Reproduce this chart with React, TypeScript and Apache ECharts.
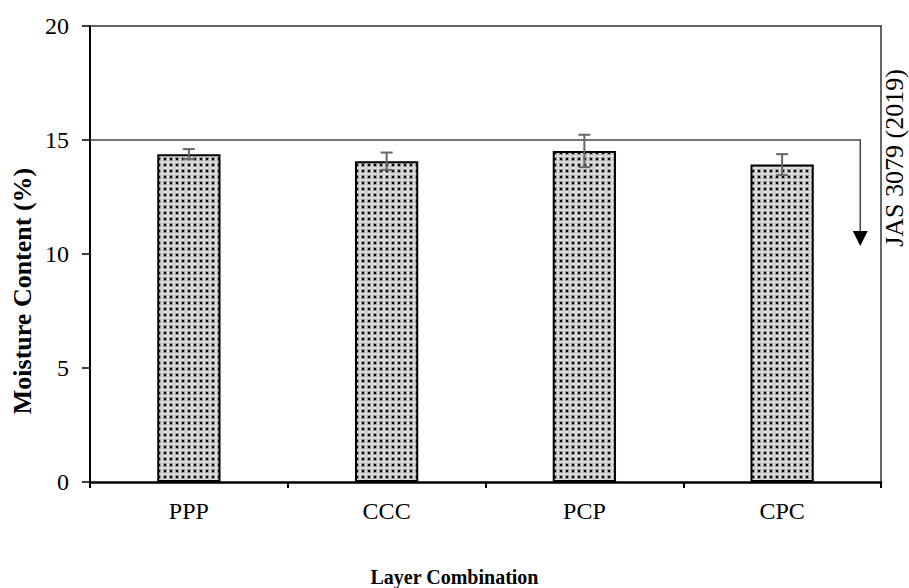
import React, { useEffect, useRef } from "react";
import * as echarts from "echarts";

const categories = ["PPP", "CCC", "PCP", "CPC"];
const moisture = [14.38, 14.07, 14.52, 13.92];
const errors = [0.22, 0.38, 0.71, 0.46];
const yTicks = { min: 0, max: 20, interval: 5 };
// reference line (JAS 3079 (2019)) in [categoryPosition (0..4), value]
const refLinePts = [
  [0, 15],
  [3.895, 15],
  [3.895, 10.35],
];
const refLabel = "JAS 3079 (2019)";
const xTitle = "Layer Combination";
const yTitle = "Moisture Content (%)";

const FONT = "'Liberation Serif', 'Times New Roman', serif";

function makePattern() {
  const c = document.createElement("canvas");
  c.width = 6;
  c.height = 6;
  const ctx = c.getContext("2d")!;
  ctx.fillStyle = "#dadada";
  ctx.fillRect(0, 0, 6, 6);
  ctx.fillStyle = "#9a9a9a";
  ctx.fillRect(1, 1, 4, 4);
  ctx.fillStyle = "#000000";
  ctx.fillRect(2, 2, 2, 2);
  return c;
}

export default function App() {
  const ref = useRef<HTMLDivElement>(null);
  useEffect(() => {
    if (!ref.current) return;
    const chart = echarts.init(ref.current, undefined, { renderer: "svg" });
    const pattern = makePattern();
    const option: any = {
      animation: false,
      backgroundColor: "#ffffff",
      grid: { left: 90, right: 28, top: 26, bottom: 106 },
      xAxis: [
        {
          type: "category",
          data: categories,
          boundaryGap: true,
          position: "bottom",
          axisLine: { show: true, lineStyle: { color: "#000", width: 2.5 } },
          axisTick: { show: true, inside: false, length: 6, lineStyle: { color: "#000", width: 2 } },
          axisLabel: { color: "#000", fontFamily: FONT, fontSize: 24, margin: 17 },
          splitLine: { show: false },
        },
        {
          type: "value",
          min: 0,
          max: 4,
          position: "top",
          axisLine: { show: true, onZero: false, lineStyle: { color: "#333", width: 1.5 } },
          axisTick: { show: false },
          axisLabel: { show: false },
          splitLine: { show: false },
        },
      ],
      yAxis: [
        {
          type: "value",
          min: yTicks.min,
          max: yTicks.max,
          interval: yTicks.interval,
          axisLine: { show: true, lineStyle: { color: "#000", width: 2 } },
          axisTick: { show: true, inside: false, length: 8, lineStyle: { color: "#000", width: 1.5 } },
          axisLabel: { color: "#000", fontFamily: FONT, fontSize: 24, margin: 21 },
          splitLine: { show: false },
        },
        {
          type: "value",
          min: yTicks.min,
          max: yTicks.max,
          position: "right",
          axisLine: { show: true, lineStyle: { color: "#666", width: 2 } },
          axisTick: { show: false },
          axisLabel: { show: false },
          splitLine: { show: false },
        },
      ],
      graphic: [
        {
          type: "text",
          x: 894,
          y: 158,
          rotation: Math.PI / 2,
          style: {
            text: refLabel,
            fill: "#000",
            font: `26px ${FONT}`,
            align: "center",
            verticalAlign: "middle",
          },
        },
        {
          type: "text",
          x: 454.5,
          y: 577,
          style: {
            text: xTitle,
            fill: "#000",
            font: `bold 20px ${FONT}`,
            align: "center",
            verticalAlign: "middle",
          },
        },
        {
          type: "text",
          x: 22,
          y: 291,
          rotation: Math.PI / 2,
          style: {
            text: yTitle,
            fill: "#000",
            font: `bold 26px ${FONT}`,
            align: "center",
            verticalAlign: "middle",
          },
        },
      ],
      series: [
        {
          type: "bar",
          data: moisture,
          barWidth: "32%",
          itemStyle: {
            color: { image: pattern, repeat: "repeat", imageWidth: 6, imageHeight: 6 },
            borderColor: "#000",
            borderWidth: 2,
          },
          z: 2,
        },
        {
          type: "custom",
          xAxisIndex: 0,
          yAxisIndex: 0,
          data: moisture.map((v, i) => [i, v - errors[i], v + errors[i]]),
          z: 5,
          renderItem: (params: any, api: any) => {
            const i = api.value(0);
            const lo = api.coord([i, api.value(1)]);
            const hi = api.coord([i, api.value(2)]);
            const w = 6;
            const st = { stroke: "#666", lineWidth: 2 };
            return {
              type: "group",
              children: [
                { type: "line", shape: { x1: hi[0], y1: hi[1], x2: lo[0], y2: lo[1] }, style: st },
                { type: "line", shape: { x1: hi[0] - w, y1: hi[1], x2: hi[0] + w, y2: hi[1] }, style: st },
                { type: "line", shape: { x1: lo[0] - w, y1: lo[1], x2: lo[0] + w, y2: lo[1] }, style: st },
              ],
            };
          },
        },
        {
          type: "custom",
          xAxisIndex: 1,
          yAxisIndex: 0,
          data: [[0]],
          z: 4,
          renderItem: (params: any, api: any) => {
            const pts = refLinePts.map((p) => api.coord(p));
            const last = pts[pts.length - 1];
            const headH = 15;
            const headW = 7.5;
            const line = pts.slice(0, -1).concat([[last[0], last[1] - headH]]);
            return {
              type: "group",
              children: [
                { type: "polyline", shape: { points: line }, style: { stroke: "#444", lineWidth: 1.5, fill: null } },
                {
                  type: "polygon",
                  shape: {
                    points: [
                      [last[0] - headW, last[1] - headH],
                      [last[0] + headW, last[1] - headH],
                      [last[0], last[1]],
                    ],
                  },
                  style: { fill: "#000" },
                },
              ],
            };
          },
        },
      ],
    };
    chart.setOption(option);
    return () => chart.dispose();
  }, []);
  return (
    <div
      ref={ref}
      style={{ position: "fixed", left: 0, top: 0, width: 909, height: 588, background: "#fff" }}
    />
  );
}
